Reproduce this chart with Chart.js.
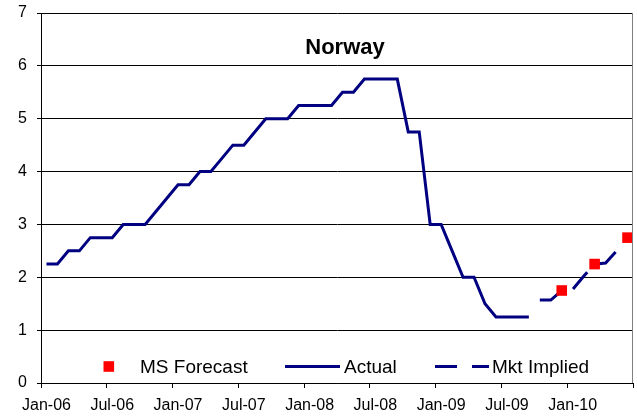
<!DOCTYPE html>
<html>
<head>
<meta charset="utf-8">
<title>Norway</title>
<script src="https://cdn.jsdelivr.net/npm/chart.js@4.4.1/dist/chart.umd.min.js"></script>
<style>
    html, body { margin: 0; padding: 0; background: #fff; }
    #wrap { width: 637px; height: 417px; }
</style>
</head>
<body>
<div id="wrap"><canvas id="rateChart" width="637" height="417"></canvas></div>
<script>
// monthly categories, Jan-06 .. Jun-10
const months = [
    'Jan-06', 'Feb-06', 'Mar-06', 'Apr-06', 'May-06', 'Jun-06',
    'Jul-06', 'Aug-06', 'Sep-06', 'Oct-06', 'Nov-06', 'Dec-06',
    'Jan-07', 'Feb-07', 'Mar-07', 'Apr-07', 'May-07', 'Jun-07',
    'Jul-07', 'Aug-07', 'Sep-07', 'Oct-07', 'Nov-07', 'Dec-07',
    'Jan-08', 'Feb-08', 'Mar-08', 'Apr-08', 'May-08', 'Jun-08',
    'Jul-08', 'Aug-08', 'Sep-08', 'Oct-08', 'Nov-08', 'Dec-08',
    'Jan-09', 'Feb-09', 'Mar-09', 'Apr-09', 'May-09', 'Jun-09',
    'Jul-09', 'Aug-09', 'Sep-09', 'Oct-09', 'Nov-09', 'Dec-09',
    'Jan-10', 'Feb-10', 'Mar-10', 'Apr-10', 'May-10', 'Jun-10'
];

// policy rate, Jan-06 .. Sep-09
const actual = [
    2.25, 2.25, 2.5, 2.5, 2.75, 2.75, 2.75, 3.0, 3.0, 3.0, 3.25, 3.5,
    3.75, 3.75, 4.0, 4.0, 4.25, 4.5, 4.5, 4.75, 5.0, 5.0, 5.0, 5.25,
    5.25, 5.25, 5.25, 5.5, 5.5, 5.75, 5.75, 5.75, 5.75, 4.75, 4.75, 3.0,
    3.0, 2.5, 2.0, 2.0, 1.5, 1.25, 1.25, 1.25, 1.25,
    null, null, null, null, null, null, null, null, null
];

// market implied path, Oct-09 .. May-10
const mktImplied = [
    null, null, null, null, null, null, null, null, null, null, null, null,
    null, null, null, null, null, null, null, null, null, null, null, null,
    null, null, null, null, null, null, null, null, null, null, null, null,
    null, null, null, null, null, null, null, null, null,
    1.57, 1.57, 1.75, 1.77, 2.02, 2.25, 2.27, 2.5, null
];

// forecast points: Dec-09, Mar-10, Jun-10
const msForecast = [
    null, null, null, null, null, null, null, null, null, null, null, null,
    null, null, null, null, null, null, null, null, null, null, null, null,
    null, null, null, null, null, null, null, null, null, null, null, null,
    null, null, null, null, null, null, null, null, null,
    null, null, 1.75, null, null, 2.25, null, null, 2.75
];

const FONT = '"Liberation Sans", Arial, sans-serif';
const NAVY = '#000080';

// title, key and right-hand frame are drawn inside the plot area
const overlayPlugin = {
    id: 'overlay',
    afterDraw(chart) {
        const ctx = chart.ctx;
        const area = chart.chartArea;
        const sets = chart.data.datasets;
        ctx.save();

        ctx.strokeStyle = '#808080';
        ctx.lineWidth = 1;
        ctx.beginPath();
        ctx.moveTo(area.right - 0.5, area.top);
        ctx.lineTo(area.right - 0.5, area.bottom);
        ctx.stroke();

        ctx.fillStyle = '#000';
        ctx.font = 'bold 22px ' + FONT;
        ctx.textAlign = 'center';
        ctx.textBaseline = 'alphabetic';
        ctx.fillText('Norway', (area.left + area.right) / 2 + 8, area.top + 41);

        const y = area.bottom - 16.5;
        const textY = area.bottom - 10;
        ctx.font = '19px ' + FONT;
        ctx.textAlign = 'left';

        // MS Forecast
        ctx.fillStyle = sets[0].backgroundColor;
        ctx.fillRect(area.left + 62.5, y - 5.3, 10.6, 10.6);
        ctx.fillStyle = '#000';
        ctx.fillText(sets[0].label, area.left + 99, textY);

        // Actual
        ctx.strokeStyle = sets[1].borderColor;
        ctx.lineWidth = sets[1].borderWidth;
        ctx.beginPath();
        ctx.moveTo(area.left + 244, y);
        ctx.lineTo(area.left + 299, y);
        ctx.stroke();
        ctx.fillText(sets[1].label, area.left + 303, textY);

        // Mkt Implied
        ctx.strokeStyle = sets[2].borderColor;
        ctx.lineWidth = sets[2].borderWidth;
        ctx.setLineDash(sets[2].borderDash);
        ctx.beginPath();
        ctx.moveTo(area.left + 394, y);
        ctx.lineTo(area.left + 448, y);
        ctx.stroke();
        ctx.setLineDash([]);
        ctx.fillText(sets[2].label, area.left + 451, textY);

        ctx.restore();
    }
};

const ctx = document.getElementById('rateChart').getContext('2d');

new Chart(ctx, {
    type: 'line',
    data: {
        labels: months,
        datasets: [
            {
                label: 'MS Forecast',
                data: msForecast,
                showLine: false,
                pointStyle: 'rect',
                pointRadius: 7.5,
                pointBorderWidth: 0,
                backgroundColor: '#FF0000',
                borderColor: '#FF0000',
                pointBackgroundColor: '#FF0000',
                clip: false
            },
            {
                label: 'Actual',
                data: actual,
                borderColor: NAVY,
                borderWidth: 3,
                pointRadius: 0,
                tension: 0,
                fill: false
            },
            {
                label: 'Mkt Implied',
                data: mktImplied,
                borderColor: NAVY,
                borderWidth: 3,
                borderDash: [22, 15],
                pointRadius: 0,
                tension: 0,
                fill: false
            }
        ]
    },
    options: {
        responsive: false,
        animation: false,
        events: [],
        layout: {
            autoPadding: false,
            padding: { top: 13, right: 4, left: 0, bottom: 0 }
        },
        plugins: {
            legend: { display: false },
            title: { display: false },
            tooltip: { enabled: false }
        },
        scales: {
            x: {
                type: 'category',
                offset: true,
                afterFit(scale) {
                    scale.height = 34;
                    scale.paddingLeft = 0;
                    scale.paddingRight = 0;
                },
                grid: {
                    offset: true,
                    drawOnChartArea: false,
                    drawTicks: true,
                    tickLength: 5,
                    tickWidth: 1,
                    tickColor: (c) => (c.index === undefined || c.index % 6 === 0) ? '#000' : 'rgba(0,0,0,0)'
                },
                border: { display: true, color: '#000', width: 1 },
                ticks: {
                    autoSkip: false,
                    maxRotation: 0,
                    minRotation: 0,
                    padding: 8,
                    color: '#000',
                    font: { family: FONT, size: 16 },
                    callback: (val, i) => i % 6 === 0 ? months[i] : ''
                }
            },
            y: {
                min: 0,
                max: 7,
                afterFit(scale) {
                    scale.width = 41;
                    scale.paddingTop = 0;
                    scale.paddingBottom = 0;
                },
                grid: {
                    color: '#000',
                    lineWidth: 1,
                    drawTicks: true,
                    tickLength: 4,
                    tickColor: '#000'
                },
                border: { display: true, color: '#000', width: 1 },
                ticks: {
                    stepSize: 1,
                    padding: 10,
                    color: '#000',
                    font: { family: FONT, size: 16 }
                }
            }
        }
    },
    plugins: [overlayPlugin]
});
</script>
</body>
</html>
